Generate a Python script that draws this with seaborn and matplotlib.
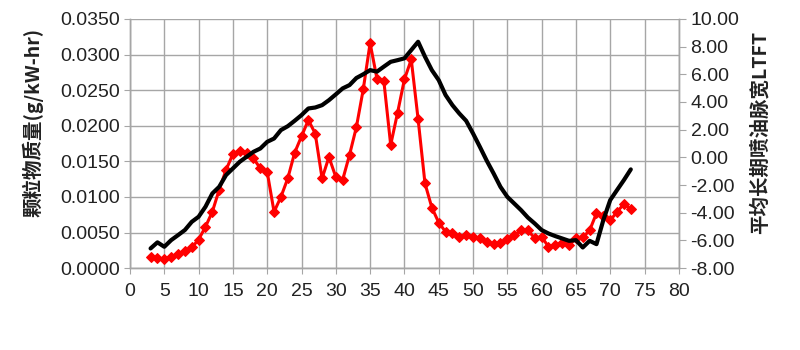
import numpy as np
import pandas as pd
import seaborn as sns
import matplotlib.pyplot as plt
from matplotlib.ticker import FormatStrFormatter, MultipleLocator

x_vals = list(range(3, 74))

# 颗粒物质量 (g/kW-hr), left axis
pm_mass = [0.0015, 0.0014, 0.0013, 0.0016, 0.0020, 0.0024, 0.0029, 0.0040,
           0.0058, 0.0079, 0.0110, 0.0138, 0.0160, 0.0165, 0.0162, 0.0154,
           0.0140, 0.0135, 0.0079, 0.0100, 0.0126, 0.0162, 0.0185, 0.0208,
           0.0189, 0.0126, 0.0156, 0.0128, 0.0124, 0.0159, 0.0198, 0.0251,
           0.0316, 0.0266, 0.0263, 0.0173, 0.0218, 0.0265, 0.0293, 0.0209,
           0.0119, 0.0085, 0.0064, 0.0051, 0.0049, 0.0044, 0.0046, 0.0043,
           0.0042, 0.0036, 0.0034, 0.0035, 0.0041, 0.0046, 0.0053, 0.0053,
           0.0042, 0.0044, 0.0030, 0.0032, 0.0035, 0.0032, 0.0042, 0.0043,
           0.0053, 0.0077, 0.0073, 0.0067, 0.0079, 0.0090, 0.0083]

# 平均长期喷油脉宽 LTFT, right axis
ltft = [-6.58, -6.14, -6.46, -5.98, -5.62, -5.25, -4.66, -4.29, -3.57, -2.61,
        -2.13, -1.28, -0.80, -0.32, 0.04, 0.40, 0.64, 1.12, 1.36, 1.97,
        2.25, 2.64, 3.05, 3.53, 3.60, 3.77, 4.13, 4.55, 4.98, 5.22,
        5.73, 6.00, 6.30, 6.19, 6.55, 6.90, 7.02, 7.15, 7.75, 8.35,
        7.27, 6.30, 5.58, 4.50, 3.77, 3.17, 2.64, 1.73, 0.76, -0.24,
        -1.16, -2.13, -2.85, -3.33, -3.81, -4.35, -4.78, -5.25, -5.50, -5.69,
        -5.86, -6.03, -5.98, -6.51, -6.03, -6.27, -4.53, -3.09, -2.36, -1.64,
        -0.87]

df = pd.DataFrame({"x": x_vals, "pm": pm_mass, "ltft": ltft})

sns.set_style("white")
plt.rcParams['font.family'] = ['Liberation Sans', 'Noto Sans CJK SC', 'DejaVu Sans']

fig = plt.figure(figsize=(8, 3.5), dpi=100)
ax = fig.add_axes([0.1625, 0.234, 0.686, 0.712])
ax2 = ax.twinx()

sns.lineplot(data=df, x="x", y="pm", ax=ax, color="#ff0000", linewidth=2.2,
             marker="D", markersize=5.5, markeredgecolor="#ff0000", zorder=3)
sns.lineplot(data=df, x="x", y="ltft", ax=ax2, color="black", linewidth=3,
             zorder=4)

ax.set_xlim(0, 80)
ax.set_ylim(0, 0.035)
ax2.set_ylim(-8, 10)
ax.xaxis.set_major_locator(MultipleLocator(5))
ax.yaxis.set_major_locator(MultipleLocator(0.005))
ax2.yaxis.set_major_locator(MultipleLocator(2))
ax.yaxis.set_major_formatter(FormatStrFormatter('%.4f'))
ax2.yaxis.set_major_formatter(FormatStrFormatter('%.2f'))

ax.grid(True, color="#a6a6a6", linewidth=1)
ax.set_axisbelow(True)
for a in (ax, ax2):
    for s in a.spines.values():
        s.set_color("#a6a6a6")
        s.set_linewidth(1)
ax.spines['top'].set_visible(False)
ax2.spines['top'].set_visible(False)

ax.tick_params(axis='both', labelsize=14, colors="#a6a6a6", labelcolor="#222222",
               length=4, left=True, bottom=True)
ax.tick_params(axis='x', pad=7)
ax2.tick_params(axis='y', labelsize=14, colors="#a6a6a6", labelcolor="#222222",
                length=5, right=True)

ax.set_xlabel("")
ax.set_ylabel("颗粒物质量(g/kW-hr)", fontsize=14, fontweight="bold",
              family=['Noto Sans CJK SC', 'Liberation Sans'], color="#222222")
ax2.set_ylabel("平均长期喷油脉宽LTFT", fontsize=14, fontweight="bold",
               family=['Noto Sans CJK SC', 'Liberation Sans'], color="#222222")
ax.yaxis.set_label_coords(-0.158, 0.586)
ax2.yaxis.set_label_coords(1.129, 0.546)

fig.savefig("out.png", dpi=100)
